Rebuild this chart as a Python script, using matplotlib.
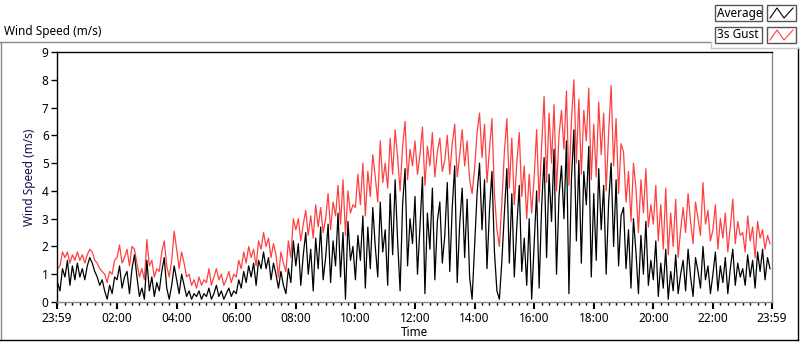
import numpy as np
import matplotlib
matplotlib.use("Agg")
import matplotlib.pyplot as plt
from matplotlib.lines import Line2D
from matplotlib.patches import Rectangle
from matplotlib.ticker import FixedLocator, MultipleLocator

plt.rcParams['font.family'] = ['Noto Sans', 'DejaVu Sans']

# 5-minute samples, one row per hour (00:00 .. 23:55)
avg_speed = [
    0.7, 0.4, 1.2, 0.9, 1.5, 0.6, 1.3, 0.8, 1.4, 0.9, 1.2, 0.8,
    1.3, 1.6, 1.4, 1.1, 0.9, 0.6, 0.8, 0.4, 0.1, 0.6, 0.3, 0.9,
    0.8, 1.3, 0.5, 0.9, 1.1, 0.3, 1.2, 1.7, 0.9, 0.2, 0.5, 0.1,
    1.5, 0.4, 0.9, 0.2, 0.7, 0.4, 1.1, 1.6, 0.5, 0.1, 0.6, 1.3,
    0.8, 0.3, 1.0, 0.6, 0.2, 0.4, 0.1, 0.3, 0.2, 0.4, 0.1, 0.3,
    0.2, 0.5, 0.1, 0.3, 0.6, 0.2, 0.4, 0.1, 0.3, 0.5, 0.2, 0.4,
    0.3, 0.8, 0.5, 1.1, 0.7, 1.3, 0.9, 1.4, 0.6, 1.5, 1.2, 1.8,
    1.2, 1.6, 0.8, 1.4, 1.0, 0.5, 1.1, 0.6, 0.3, 1.2, 0.7, 2.2,
    1.3, 2.1, 0.6, 1.7, 2.5, 1.0, 1.9, 0.4, 2.3, 1.2, 2.7, 0.8,
    1.6, 2.8, 0.7, 2.2, 1.3, 3.2, 0.9, 2.5, 0.1, 2.9, 1.5, 2.0,
    0.8, 2.4, 1.5, 3.1, 0.5, 2.7, 1.2, 3.4, 2.0, 0.9, 3.6, 1.8,
    2.6, 0.6, 3.9, 1.7, 4.4, 2.2, 0.4, 3.5, 4.8, 1.3, 3.0, 2.1,
    3.8, 1.0, 2.7, 4.5, 0.3, 3.2, 1.9, 4.1, 0.8, 2.9, 3.6, 1.4,
    2.4, 4.3, 1.1, 3.4, 4.9, 0.7, 2.8, 4.1, 1.6, 3.7, 0.9, 0.1,
    2.0, 3.9, 5.0, 2.6, 4.4, 1.2, 3.3, 4.7, 1.8, 0.4, 0.1, 1.5,
    3.2, 4.8, 1.4, 3.9, 0.9, 2.7, 4.2, 1.1, 2.3, 0.6, 3.0, 0.1,
    2.1, 4.0, 0.5, 3.4, 5.2, 1.6, 4.6, 2.9, 5.5, 1.0, 3.8, 4.9,
    3.0, 5.8, 0.3, 4.4, 6.2, 2.2, 5.1, 1.4, 4.7, 3.5, 5.6, 0.9,
    3.9, 1.5, 4.8, 2.6, 4.2, 1.0, 3.6, 5.0, 2.0, 4.4, 1.3, 3.1,
    3.4, 1.2, 2.6, 0.5, 3.0, 1.8, 0.3, 2.4, 1.0, 2.9, 0.6, 1.5,
    0.8, 2.2, 0.2, 1.4, 0.5, 1.9, 0.1, 1.1, 0.4, 1.7, 0.3, 1.0,
    1.5, 0.4, 1.9, 0.9, 0.2, 1.6, 1.1, 0.5, 2.0, 0.8, 1.3, 0.3,
    1.0, 1.8, 0.4, 1.3, 0.7, 1.6, 0.3, 1.2, 1.9, 0.6, 1.4, 0.9,
    1.2, 0.6, 1.7, 0.9, 1.5, 0.5, 1.8, 1.1, 1.9, 0.8, 1.6, 1.2,
]

gust_speed = [
    1.2, 1.3, 1.8, 1.6, 1.8, 1.4, 1.7, 1.5, 1.8, 1.5, 1.7, 1.4,
    1.7, 1.9, 1.8, 1.5, 1.4, 1.2, 1.1, 1.0, 0.7, 1.1, 1.0, 1.5,
    1.6, 2.05, 1.4, 1.6, 1.9, 1.3, 2.0, 1.9, 1.4, 0.9, 1.2, 0.8,
    2.25, 1.3, 1.5, 0.9, 1.2, 1.1, 1.8, 2.2, 1.3, 0.9, 1.5, 2.55,
    1.9, 1.2, 1.8, 1.4, 0.9, 1.0, 0.6, 0.8, 0.5, 0.9, 0.6, 0.8,
    0.7, 1.2, 0.6, 0.9, 1.2, 0.8, 1.0, 0.6, 0.8, 1.1, 0.7, 1.0,
    0.9, 1.5, 1.2, 1.8, 1.4, 2.0, 1.6, 1.9, 1.3, 2.2, 1.9, 2.5,
    2.0, 2.3, 1.6, 2.1, 1.7, 0.9, 1.8, 1.4, 1.1, 2.2, 1.6, 3.0,
    2.6, 3.0, 2.2, 2.8, 3.3, 2.4, 3.1, 2.3, 3.5, 2.7, 3.4, 2.5,
    3.0, 3.9, 2.6, 3.6, 3.1, 4.2, 2.8, 4.4, 2.4, 4.0, 3.2, 3.5,
    3.4, 4.6, 3.5, 5.0, 3.1, 4.7, 3.8, 5.3, 4.5, 3.6, 5.8, 4.3,
    5.0, 4.1, 5.9, 4.6, 6.2, 5.2, 4.0, 5.6, 6.5, 4.4, 5.5, 4.9,
    5.8, 4.6, 5.3, 6.3, 4.2, 5.6, 4.9, 6.1, 4.5, 5.4, 5.9, 4.7,
    5.1, 6.0, 4.6, 5.7, 6.4, 4.5, 5.3, 6.2, 4.9, 5.8, 4.4, 3.9,
    4.8, 6.1, 6.8, 5.2, 6.4, 4.3, 5.5, 6.6, 3.9, 2.6, 2.0, 3.6,
    5.4, 6.6, 4.1, 5.9, 3.5, 5.0, 6.1, 3.8, 4.9, 3.0, 4.6, 3.2,
    4.5, 6.2, 3.6, 5.6, 7.4, 4.3, 6.8, 5.0, 7.1, 4.0, 6.0, 6.9,
    5.5, 7.6, 4.2, 6.5, 8.0, 5.0, 7.3, 4.6, 6.9, 5.8, 7.7, 4.4,
    6.4, 4.5, 7.2, 5.3, 6.8, 4.0, 6.1, 7.8, 4.9, 6.6, 3.9, 5.7,
    5.4, 3.6, 4.7, 2.9, 5.0, 4.1, 2.5, 4.4, 3.2, 4.8, 2.7, 3.5,
    2.8, 4.2, 2.2, 3.5, 1.9, 4.1, 1.7, 3.2, 2.0, 3.7, 1.6, 2.6,
    3.4, 2.5, 3.9, 2.9, 2.1, 3.6, 3.0, 2.4, 4.3, 2.8, 3.3, 2.2,
    2.6, 3.5, 1.9, 3.0, 2.3, 3.2, 1.8, 2.7, 3.7, 2.1, 2.9, 2.4,
    2.5, 1.8, 3.1, 2.2, 2.7, 1.6, 2.9, 2.3, 2.6, 1.9, 2.4, 2.1,
]

minutes = np.arange(len(avg_speed)) * 5
tick_minutes = [-1, 120, 240, 360, 480, 600, 720, 840, 960, 1080, 1200, 1320, 1439]
tick_labels = ["23:59", "02:00", "04:00", "06:00", "08:00", "10:00", "12:00",
               "14:00", "16:00", "18:00", "20:00", "22:00", "23:59"]

fig = plt.figure(figsize=(8.0, 3.42), dpi=100)
ax = fig.add_axes([57 / 800, 1 - 302 / 342, 715 / 800, 250 / 342])

ax.plot(minutes, gust_speed, color='#ff4040', lw=0.9)
ax.plot(minutes, avg_speed, color='black', lw=0.9)

ax.set_xlim(-1, 1439)
ax.set_ylim(0, 9)
ax.xaxis.set_major_locator(FixedLocator(tick_minutes))
ax.set_xticklabels(tick_labels)
ax.xaxis.set_minor_locator(MultipleLocator(15))
ax.yaxis.set_major_locator(MultipleLocator(1))
ax.tick_params(axis='both', which='major', length=4, width=1, labelsize=8.5,
               colors='black', pad=2)
ax.tick_params(axis='x', which='minor', length=2, width=1)
ax.tick_params(axis='x', which='major', length=5, width=1.5)

for side in ['left', 'top']:
    ax.spines[side].set_color('black')
    ax.spines[side].set_linewidth(1)
for side in ['right', 'bottom']:
    ax.spines[side].set_color('#8a8a8a')
    ax.spines[side].set_linewidth(1)

ax.set_xlabel("Time", fontsize=8.5, labelpad=1)
ax.set_ylabel("Wind Speed (m/s)", fontsize=8.5, color='#101050', labelpad=4)

# panel frame + title
fig.add_artist(Line2D([0 / 800, 711 / 800], [1 - 42 / 342] * 2, color='#8a8a8a', lw=1))
fig.add_artist(Line2D([1 / 800, 1 / 800], [1 - 42 / 342, 1 - 340 / 342], color='#8a8a8a', lw=1))
fig.add_artist(Line2D([0, 798 / 800], [1 - 340 / 342] * 2, color='black', lw=1))
fig.add_artist(Line2D([798 / 800, 798 / 800], [1 - 48 / 342, 1 - 340 / 342], color='black', lw=1))
fig.add_artist(Line2D([711 / 800, 800 / 800], [1 - 48 / 342] * 2, color='#c8c8c8', lw=1))
fig.add_artist(Line2D([711 / 800, 711 / 800], [1 - 42 / 342, 1 - 48 / 342], color='#c8c8c8', lw=1))
fig.text(4 / 800, 1 - 32 / 342, "Wind Speed (m/s)", fontsize=8.5, va='center', ha='left')

# legend boxes
legend_items = [("Average", 'black', 13), ("3s Gust", '#ff4040', 35)]
for label, col, yc in legend_items:
    fig.add_artist(Rectangle((715 / 800, 1 - (yc + 8) / 342), 47 / 800, 16 / 342,
                             transform=fig.transFigure, fill=False, ec='#555555', lw=1))
    fig.text(717 / 800, 1 - yc / 342, label, fontsize=8.5, va='center', ha='left')
    fig.add_artist(Rectangle((767 / 800, 1 - (yc + 8) / 342), 29 / 800, 16 / 342,
                             transform=fig.transFigure, fill=False, ec='#555555', lw=1))
    xs = np.array([770, 777, 784, 793]) / 800
    ys = 1 - (yc + np.array([5, -5, 5, -5])) / 342
    fig.add_artist(Line2D(xs, ys, color=col, lw=0.8))

fig.savefig("out.png", dpi=100)
